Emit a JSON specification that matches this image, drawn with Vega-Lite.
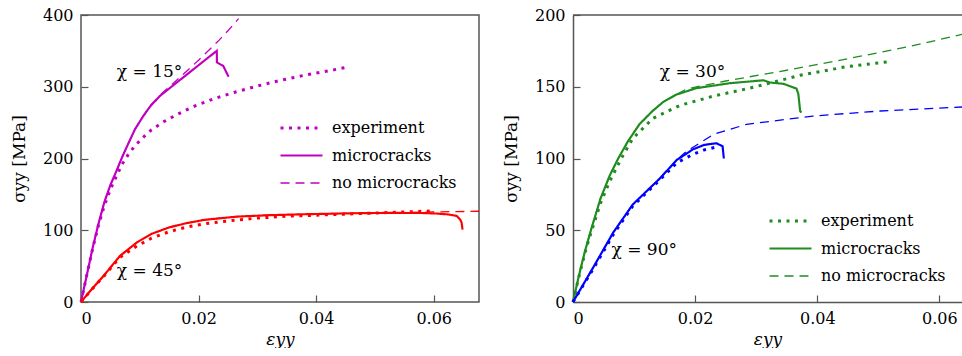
{
  "$schema": "https://vega.github.io/schema/vega-lite/v6.json",
  "padding": {"left": 9, "top": 6, "right": 0, "bottom": 0},
  "bounds": "flush",
  "spacing": 94,
  "config": {
    "font": "DejaVu Serif",
    "axis": {"labelFont": "DejaVu Serif", "titleFont": "DejaVu Serif", "labelFontSize": 16, "titleFontSize": 17, "titleFontWeight": "normal", "labelColor": "#000", "titleColor": "#000", "grid": false, "tickColor": "#555", "tickWidth": 1.2, "tickSize": -7, "domainColor": "#555", "domainWidth": 1.5, "labelPadding": 15},
    "legend": {"labelFont": "DejaVu Serif", "labelFontSize": 16, "labelColor": "#000", "title": null, "orient": "none", "symbolType": "stroke", "symbolSize": 1764, "clipHeight": 20, "rowPadding": 7.5, "labelOffset": 8},
    "text": {"font": "DejaVu Serif", "fontSize": 17, "color": "#000"}
  },
  "resolve": {"scale": {"color": "independent", "strokeDash": "independent", "strokeWidth": "independent"}, "legend": {"strokeDash": "independent", "strokeWidth": "independent"}},
  "datasets": {
    "left": [
      {"curve": "15°", "type": "experiment", "x": 0, "y": 0},
      {"curve": "15°", "type": "experiment", "x": 0.001, "y": 38},
      {"curve": "15°", "type": "experiment", "x": 0.002, "y": 75},
      {"curve": "15°", "type": "experiment", "x": 0.003, "y": 108},
      {"curve": "15°", "type": "experiment", "x": 0.004, "y": 135},
      {"curve": "15°", "type": "experiment", "x": 0.005, "y": 157},
      {"curve": "15°", "type": "experiment", "x": 0.006, "y": 175},
      {"curve": "15°", "type": "experiment", "x": 0.007, "y": 192},
      {"curve": "15°", "type": "experiment", "x": 0.008, "y": 205},
      {"curve": "15°", "type": "experiment", "x": 0.009, "y": 216},
      {"curve": "15°", "type": "experiment", "x": 0.0105, "y": 229},
      {"curve": "15°", "type": "experiment", "x": 0.012, "y": 240},
      {"curve": "15°", "type": "experiment", "x": 0.014, "y": 251},
      {"curve": "15°", "type": "experiment", "x": 0.0165, "y": 262},
      {"curve": "15°", "type": "experiment", "x": 0.019, "y": 272},
      {"curve": "15°", "type": "experiment", "x": 0.0225, "y": 283},
      {"curve": "15°", "type": "experiment", "x": 0.026, "y": 292},
      {"curve": "15°", "type": "experiment", "x": 0.03, "y": 301},
      {"curve": "15°", "type": "experiment", "x": 0.034, "y": 309},
      {"curve": "15°", "type": "experiment", "x": 0.038, "y": 316},
      {"curve": "15°", "type": "experiment", "x": 0.042, "y": 322},
      {"curve": "15°", "type": "experiment", "x": 0.0457, "y": 328},
      {"curve": "15°", "type": "microcracks", "x": 0, "y": 0},
      {"curve": "15°", "type": "microcracks", "x": 0.001, "y": 38},
      {"curve": "15°", "type": "microcracks", "x": 0.002, "y": 76},
      {"curve": "15°", "type": "microcracks", "x": 0.003, "y": 110},
      {"curve": "15°", "type": "microcracks", "x": 0.004, "y": 140},
      {"curve": "15°", "type": "microcracks", "x": 0.005, "y": 163},
      {"curve": "15°", "type": "microcracks", "x": 0.006, "y": 182},
      {"curve": "15°", "type": "microcracks", "x": 0.007, "y": 202},
      {"curve": "15°", "type": "microcracks", "x": 0.008, "y": 220},
      {"curve": "15°", "type": "microcracks", "x": 0.0092, "y": 241},
      {"curve": "15°", "type": "microcracks", "x": 0.0105, "y": 258},
      {"curve": "15°", "type": "microcracks", "x": 0.0117, "y": 272},
      {"curve": "15°", "type": "microcracks", "x": 0.0134, "y": 287},
      {"curve": "15°", "type": "microcracks", "x": 0.016, "y": 304},
      {"curve": "15°", "type": "microcracks", "x": 0.018, "y": 317},
      {"curve": "15°", "type": "microcracks", "x": 0.02, "y": 330},
      {"curve": "15°", "type": "microcracks", "x": 0.022, "y": 343},
      {"curve": "15°", "type": "microcracks", "x": 0.0231, "y": 350},
      {"curve": "15°", "type": "microcracks", "x": 0.02312, "y": 334},
      {"curve": "15°", "type": "microcracks", "x": 0.0242, "y": 329},
      {"curve": "15°", "type": "microcracks", "x": 0.0251, "y": 314},
      {"curve": "15°", "type": "no microcracks", "x": 0, "y": 0},
      {"curve": "15°", "type": "no microcracks", "x": 0.001, "y": 38},
      {"curve": "15°", "type": "no microcracks", "x": 0.002, "y": 76},
      {"curve": "15°", "type": "no microcracks", "x": 0.003, "y": 110},
      {"curve": "15°", "type": "no microcracks", "x": 0.004, "y": 140},
      {"curve": "15°", "type": "no microcracks", "x": 0.005, "y": 163},
      {"curve": "15°", "type": "no microcracks", "x": 0.006, "y": 182},
      {"curve": "15°", "type": "no microcracks", "x": 0.007, "y": 202},
      {"curve": "15°", "type": "no microcracks", "x": 0.008, "y": 220},
      {"curve": "15°", "type": "no microcracks", "x": 0.0092, "y": 241},
      {"curve": "15°", "type": "no microcracks", "x": 0.0105, "y": 258},
      {"curve": "15°", "type": "no microcracks", "x": 0.0117, "y": 273},
      {"curve": "15°", "type": "no microcracks", "x": 0.0134, "y": 288},
      {"curve": "15°", "type": "no microcracks", "x": 0.016, "y": 307},
      {"curve": "15°", "type": "no microcracks", "x": 0.018, "y": 322},
      {"curve": "15°", "type": "no microcracks", "x": 0.02, "y": 337},
      {"curve": "15°", "type": "no microcracks", "x": 0.022, "y": 353},
      {"curve": "15°", "type": "no microcracks", "x": 0.0235, "y": 365},
      {"curve": "15°", "type": "no microcracks", "x": 0.025, "y": 378},
      {"curve": "15°", "type": "no microcracks", "x": 0.0268, "y": 395},
      {"curve": "45°", "type": "experiment", "x": 0, "y": 0},
      {"curve": "45°", "type": "experiment", "x": 0.002, "y": 19},
      {"curve": "45°", "type": "experiment", "x": 0.004, "y": 37},
      {"curve": "45°", "type": "experiment", "x": 0.0066, "y": 62},
      {"curve": "45°", "type": "experiment", "x": 0.0095, "y": 78},
      {"curve": "45°", "type": "experiment", "x": 0.012, "y": 89},
      {"curve": "45°", "type": "experiment", "x": 0.015, "y": 98},
      {"curve": "45°", "type": "experiment", "x": 0.018, "y": 104.5},
      {"curve": "45°", "type": "experiment", "x": 0.021, "y": 109},
      {"curve": "45°", "type": "experiment", "x": 0.025, "y": 113},
      {"curve": "45°", "type": "experiment", "x": 0.03, "y": 117},
      {"curve": "45°", "type": "experiment", "x": 0.035, "y": 119.5},
      {"curve": "45°", "type": "experiment", "x": 0.04, "y": 121},
      {"curve": "45°", "type": "experiment", "x": 0.045, "y": 122.5},
      {"curve": "45°", "type": "experiment", "x": 0.05, "y": 124},
      {"curve": "45°", "type": "experiment", "x": 0.055, "y": 125.5},
      {"curve": "45°", "type": "experiment", "x": 0.06, "y": 127},
      {"curve": "45°", "type": "microcracks", "x": 0, "y": 0},
      {"curve": "45°", "type": "microcracks", "x": 0.002, "y": 19.5},
      {"curve": "45°", "type": "microcracks", "x": 0.0038, "y": 36},
      {"curve": "45°", "type": "microcracks", "x": 0.0066, "y": 64},
      {"curve": "45°", "type": "microcracks", "x": 0.0095, "y": 83},
      {"curve": "45°", "type": "microcracks", "x": 0.012, "y": 95},
      {"curve": "45°", "type": "microcracks", "x": 0.015, "y": 104},
      {"curve": "45°", "type": "microcracks", "x": 0.018, "y": 110},
      {"curve": "45°", "type": "microcracks", "x": 0.021, "y": 114.5},
      {"curve": "45°", "type": "microcracks", "x": 0.0265, "y": 119},
      {"curve": "45°", "type": "microcracks", "x": 0.032, "y": 121},
      {"curve": "45°", "type": "microcracks", "x": 0.038, "y": 122.3},
      {"curve": "45°", "type": "microcracks", "x": 0.045, "y": 123.5},
      {"curve": "45°", "type": "microcracks", "x": 0.052, "y": 124.2},
      {"curve": "45°", "type": "microcracks", "x": 0.058, "y": 124},
      {"curve": "45°", "type": "microcracks", "x": 0.0605, "y": 123.3},
      {"curve": "45°", "type": "microcracks", "x": 0.0625, "y": 122},
      {"curve": "45°", "type": "microcracks", "x": 0.0639, "y": 120},
      {"curve": "45°", "type": "microcracks", "x": 0.0645, "y": 115},
      {"curve": "45°", "type": "microcracks", "x": 0.06474, "y": 110.6},
      {"curve": "45°", "type": "microcracks", "x": 0.0649, "y": 101},
      {"curve": "45°", "type": "no microcracks", "x": 0, "y": 0},
      {"curve": "45°", "type": "no microcracks", "x": 0.002, "y": 19.5},
      {"curve": "45°", "type": "no microcracks", "x": 0.0038, "y": 36},
      {"curve": "45°", "type": "no microcracks", "x": 0.0066, "y": 64},
      {"curve": "45°", "type": "no microcracks", "x": 0.0095, "y": 83},
      {"curve": "45°", "type": "no microcracks", "x": 0.012, "y": 95},
      {"curve": "45°", "type": "no microcracks", "x": 0.015, "y": 104},
      {"curve": "45°", "type": "no microcracks", "x": 0.018, "y": 110},
      {"curve": "45°", "type": "no microcracks", "x": 0.021, "y": 114.5},
      {"curve": "45°", "type": "no microcracks", "x": 0.0265, "y": 119},
      {"curve": "45°", "type": "no microcracks", "x": 0.032, "y": 121},
      {"curve": "45°", "type": "no microcracks", "x": 0.038, "y": 122.3},
      {"curve": "45°", "type": "no microcracks", "x": 0.045, "y": 123.5},
      {"curve": "45°", "type": "no microcracks", "x": 0.052, "y": 124.2},
      {"curve": "45°", "type": "no microcracks", "x": 0.056, "y": 124.8},
      {"curve": "45°", "type": "no microcracks", "x": 0.06, "y": 125.5},
      {"curve": "45°", "type": "no microcracks", "x": 0.064, "y": 126},
      {"curve": "45°", "type": "no microcracks", "x": 0.0677, "y": 126.5}
    ],
    "right": [
      {"curve": "30°", "type": "experiment", "x": 0, "y": 0},
      {"curve": "30°", "type": "experiment", "x": 0.0011, "y": 20},
      {"curve": "30°", "type": "experiment", "x": 0.0022, "y": 38},
      {"curve": "30°", "type": "experiment", "x": 0.0033, "y": 53},
      {"curve": "30°", "type": "experiment", "x": 0.0046, "y": 70},
      {"curve": "30°", "type": "experiment", "x": 0.006, "y": 84},
      {"curve": "30°", "type": "experiment", "x": 0.0079, "y": 100},
      {"curve": "30°", "type": "experiment", "x": 0.0098, "y": 114},
      {"curve": "30°", "type": "experiment", "x": 0.0131, "y": 128},
      {"curve": "30°", "type": "experiment", "x": 0.0175, "y": 137},
      {"curve": "30°", "type": "experiment", "x": 0.023, "y": 143.5},
      {"curve": "30°", "type": "experiment", "x": 0.0284, "y": 148.5},
      {"curve": "30°", "type": "experiment", "x": 0.0322, "y": 152.5},
      {"curve": "30°", "type": "experiment", "x": 0.0372, "y": 158},
      {"curve": "30°", "type": "experiment", "x": 0.0448, "y": 164},
      {"curve": "30°", "type": "experiment", "x": 0.0519, "y": 167.5},
      {"curve": "30°", "type": "microcracks", "x": 0, "y": 0},
      {"curve": "30°", "type": "microcracks", "x": 0.001, "y": 19},
      {"curve": "30°", "type": "microcracks", "x": 0.002, "y": 36},
      {"curve": "30°", "type": "microcracks", "x": 0.003, "y": 51},
      {"curve": "30°", "type": "microcracks", "x": 0.0045, "y": 72},
      {"curve": "30°", "type": "microcracks", "x": 0.006, "y": 88},
      {"curve": "30°", "type": "microcracks", "x": 0.0074, "y": 100},
      {"curve": "30°", "type": "microcracks", "x": 0.009, "y": 112},
      {"curve": "30°", "type": "microcracks", "x": 0.0109, "y": 124},
      {"curve": "30°", "type": "microcracks", "x": 0.013, "y": 133},
      {"curve": "30°", "type": "microcracks", "x": 0.0148, "y": 139.5},
      {"curve": "30°", "type": "microcracks", "x": 0.0169, "y": 144.5},
      {"curve": "30°", "type": "microcracks", "x": 0.0202, "y": 149},
      {"curve": "30°", "type": "microcracks", "x": 0.0257, "y": 152.5},
      {"curve": "30°", "type": "microcracks", "x": 0.0312, "y": 154.5},
      {"curve": "30°", "type": "microcracks", "x": 0.0322, "y": 153},
      {"curve": "30°", "type": "microcracks", "x": 0.0345, "y": 152},
      {"curve": "30°", "type": "microcracks", "x": 0.0366, "y": 148.7},
      {"curve": "30°", "type": "microcracks", "x": 0.0369, "y": 145},
      {"curve": "30°", "type": "microcracks", "x": 0.0372, "y": 133},
      {"curve": "30°", "type": "microcracks", "x": 0.0374, "y": 132},
      {"curve": "30°", "type": "no microcracks", "x": 0, "y": 0},
      {"curve": "30°", "type": "no microcracks", "x": 0.001, "y": 19},
      {"curve": "30°", "type": "no microcracks", "x": 0.002, "y": 36},
      {"curve": "30°", "type": "no microcracks", "x": 0.003, "y": 51},
      {"curve": "30°", "type": "no microcracks", "x": 0.0045, "y": 72},
      {"curve": "30°", "type": "no microcracks", "x": 0.006, "y": 88},
      {"curve": "30°", "type": "no microcracks", "x": 0.0074, "y": 100},
      {"curve": "30°", "type": "no microcracks", "x": 0.009, "y": 112},
      {"curve": "30°", "type": "no microcracks", "x": 0.0109, "y": 124},
      {"curve": "30°", "type": "no microcracks", "x": 0.013, "y": 133},
      {"curve": "30°", "type": "no microcracks", "x": 0.0148, "y": 139.5},
      {"curve": "30°", "type": "no microcracks", "x": 0.0169, "y": 144.5},
      {"curve": "30°", "type": "no microcracks", "x": 0.0186, "y": 148.5},
      {"curve": "30°", "type": "no microcracks", "x": 0.025, "y": 154},
      {"curve": "30°", "type": "no microcracks", "x": 0.035, "y": 161.5},
      {"curve": "30°", "type": "no microcracks", "x": 0.045, "y": 169.5},
      {"curve": "30°", "type": "no microcracks", "x": 0.055, "y": 178},
      {"curve": "30°", "type": "no microcracks", "x": 0.0637, "y": 186.5},
      {"curve": "90°", "type": "experiment", "x": 0, "y": 0},
      {"curve": "90°", "type": "experiment", "x": 0.0033, "y": 23},
      {"curve": "90°", "type": "experiment", "x": 0.0066, "y": 47},
      {"curve": "90°", "type": "experiment", "x": 0.0098, "y": 67},
      {"curve": "90°", "type": "experiment", "x": 0.0142, "y": 85},
      {"curve": "90°", "type": "experiment", "x": 0.017, "y": 97},
      {"curve": "90°", "type": "experiment", "x": 0.0197, "y": 103},
      {"curve": "90°", "type": "experiment", "x": 0.0215, "y": 106},
      {"curve": "90°", "type": "experiment", "x": 0.0235, "y": 108},
      {"curve": "90°", "type": "microcracks", "x": 0, "y": 0},
      {"curve": "90°", "type": "microcracks", "x": 0.0033, "y": 24},
      {"curve": "90°", "type": "microcracks", "x": 0.0066, "y": 48.5},
      {"curve": "90°", "type": "microcracks", "x": 0.0098, "y": 68},
      {"curve": "90°", "type": "microcracks", "x": 0.0142, "y": 86},
      {"curve": "90°", "type": "microcracks", "x": 0.017, "y": 99},
      {"curve": "90°", "type": "microcracks", "x": 0.0197, "y": 106.5},
      {"curve": "90°", "type": "microcracks", "x": 0.0215, "y": 109.5},
      {"curve": "90°", "type": "microcracks", "x": 0.0235, "y": 110.6},
      {"curve": "90°", "type": "microcracks", "x": 0.0245, "y": 108.5},
      {"curve": "90°", "type": "microcracks", "x": 0.0247, "y": 100},
      {"curve": "90°", "type": "no microcracks", "x": 0, "y": 0},
      {"curve": "90°", "type": "no microcracks", "x": 0.0033, "y": 24},
      {"curve": "90°", "type": "no microcracks", "x": 0.0066, "y": 48.5},
      {"curve": "90°", "type": "no microcracks", "x": 0.0098, "y": 68},
      {"curve": "90°", "type": "no microcracks", "x": 0.0142, "y": 86},
      {"curve": "90°", "type": "no microcracks", "x": 0.017, "y": 99},
      {"curve": "90°", "type": "no microcracks", "x": 0.0186, "y": 105},
      {"curve": "90°", "type": "no microcracks", "x": 0.023, "y": 116.8},
      {"curve": "90°", "type": "no microcracks", "x": 0.0284, "y": 123.8},
      {"curve": "90°", "type": "no microcracks", "x": 0.0393, "y": 129.6},
      {"curve": "90°", "type": "no microcracks", "x": 0.0503, "y": 133.1},
      {"curve": "90°", "type": "no microcracks", "x": 0.0637, "y": 135.9}
    ]
  },
  "hconcat": [
    {
      "width": 398,
      "height": 287,
      "view": {"stroke": "#555", "strokeWidth": 1.5},
      "layer": [
        {
          "data": {"name": "left"},
          "mark": {"type": "line", "strokeCap": "butt"},
          "encoding": {
            "x": {"field": "x", "type": "quantitative", "scale": {"domain": [0, 0.0677], "nice": false}, "axis": {"values": [0, 0.02, 0.04, 0.06], "format": ".2~f", "title": "εyy", "domain": false, "titlePadding": 5, "titleFontStyle": "italic"}},
            "y": {"field": "y", "type": "quantitative", "scale": {"domain": [0, 400], "nice": false}, "axis": {"values": [0, 100, 200, 300, 400], "title": "σyy [MPa]", "domain": false, "titlePadding": 14}},
            "color": {"field": "curve", "type": "nominal", "scale": {"domain": ["15°", "45°"], "range": ["#c000c0", "#ff0000"]}, "legend": null},
            "strokeDash": {"field": "type", "type": "nominal", "scale": {"domain": ["experiment", "microcracks", "no microcracks"], "range": [[3, 5.5], [1, 0], [9, 6]]}, "legend": {"legendX": 198, "legendY": 103, "symbolStrokeColor": "#c000c0"}},
            "strokeWidth": {"field": "type", "type": "nominal", "scale": {"domain": ["experiment", "microcracks", "no microcracks"], "range": [3, 1.3, 1.3]}, "legend": {"legendX": 198, "legendY": 103, "symbolStrokeColor": "#c000c0"}}
          }
        },
        {
          "data": {"values": [{"label": "χ = 15°", "x": 0.0061, "y": 313}, {"label": "χ = 45°", "x": 0.0061, "y": 36}]},
          "mark": {"type": "text", "align": "left", "baseline": "alphabetic"},
          "encoding": {
            "x": {"field": "x", "type": "quantitative"},
            "y": {"field": "y", "type": "quantitative"},
            "text": {"field": "label"}
          }
        }
      ]
    },
    {
      "width": 389,
      "height": 287,
      "view": {"stroke": null},
      "layer": [
        {
          "data": {"name": "right"},
          "mark": {"type": "line", "strokeCap": "butt"},
          "encoding": {
            "x": {"field": "x", "type": "quantitative", "scale": {"domain": [0, 0.0637], "nice": false}, "axis": {"values": [0, 0.02, 0.04, 0.06], "format": ".2~f", "title": "εyy", "titlePadding": 5, "titleFontStyle": "italic"}},
            "y": {"field": "y", "type": "quantitative", "scale": {"domain": [0, 200], "nice": false}, "axis": {"values": [0, 50, 100, 150, 200], "title": "σyy [MPa]", "titlePadding": 14}},
            "color": {"field": "curve", "type": "nominal", "scale": {"domain": ["30°", "90°"], "range": ["#1f8c1f", "#0000ff"]}, "legend": null},
            "strokeDash": {"field": "type", "type": "nominal", "scale": {"domain": ["experiment", "microcracks", "no microcracks"], "range": [[3, 5.5], [1, 0], [9, 6]]}, "legend": {"legendX": 195, "legendY": 196, "symbolStrokeColor": "#1f8c1f"}},
            "strokeWidth": {"field": "type", "type": "nominal", "scale": {"domain": ["experiment", "microcracks", "no microcracks"], "range": [3, 1.3, 1.3]}, "legend": {"legendX": 195, "legendY": 196, "symbolStrokeColor": "#1f8c1f"}}
          }
        },
        {
          "data": {"values": [{"label": "χ = 30°", "x": 0.0142, "y": 157}, {"label": "χ = 90°", "x": 0.0063, "y": 33}]},
          "mark": {"type": "text", "align": "left", "baseline": "alphabetic"},
          "encoding": {
            "x": {"field": "x", "type": "quantitative"},
            "y": {"field": "y", "type": "quantitative"},
            "text": {"field": "label"}
          }
        },
        {
          "data": {"values": [{}]},
          "mark": {"type": "rule", "color": "#555", "strokeWidth": 1.5},
          "encoding": {"y": {"datum": 200}}
        }
      ]
    }
  ]
}
